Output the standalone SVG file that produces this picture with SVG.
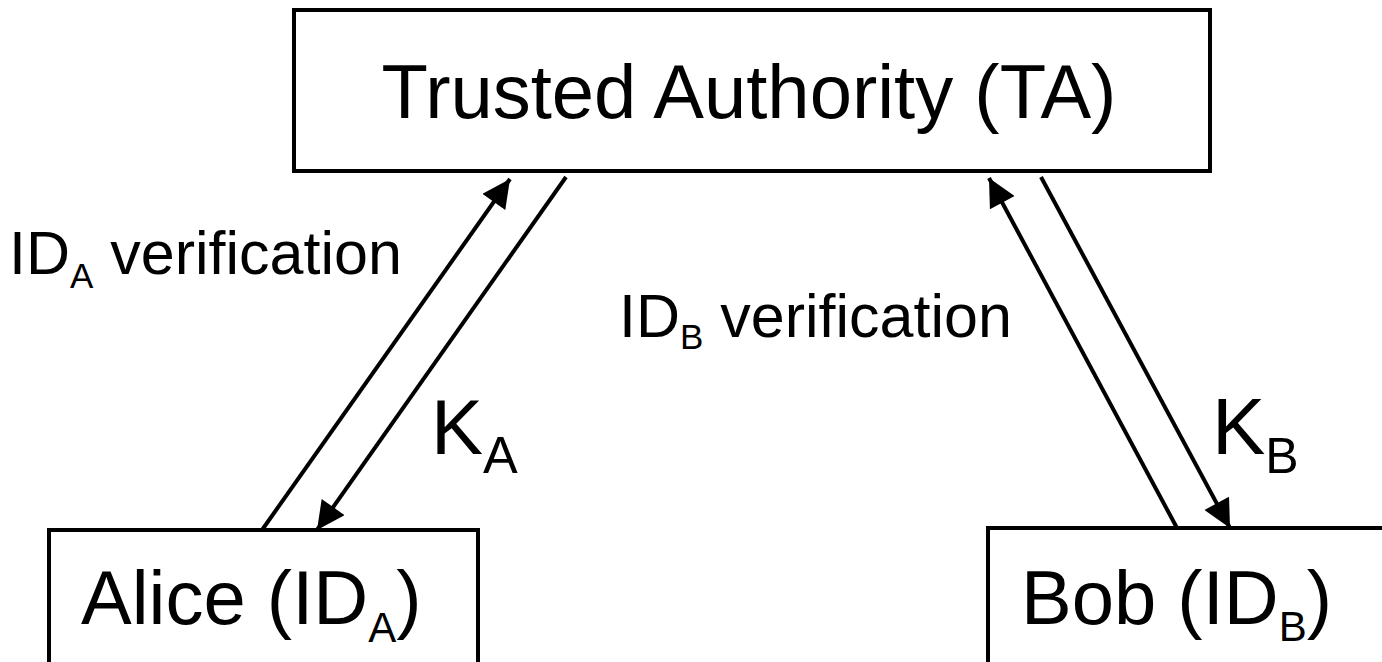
<svg xmlns="http://www.w3.org/2000/svg" width="1382" height="662" viewBox="0 0 1382 662">
  <style>
    .box { fill: #ffffff; stroke: #000000; stroke-width: 4; }
    .lbl { font-family: "Liberation Sans", Arial, sans-serif; fill: #000000; }
    .edge { fill: none; stroke: #000000; stroke-width: 4; }
  </style>
  <defs>
    <marker id="arrow" viewBox="0 0 10 10" refX="10" refY="5" markerWidth="7.2" markerHeight="7" markerUnits="strokeWidth" orient="auto">
      <path d="M0,0 L10,5 L0,10 Z" fill="#000000"/>
    </marker>
  </defs>
  <rect width="1382" height="662" fill="#ffffff"/>

  <g id="ta">
    <rect class="box" x="294" y="10" width="916" height="161"/>
    <text class="lbl" x="749" y="118" font-size="76" text-anchor="middle">Trusted Authority (TA)</text>
  </g>

  <g id="alice">
    <rect class="box" x="49" y="530" width="429" height="160"/>
    <text class="lbl" x="81" y="624" font-size="76">Alice (ID<tspan font-size="42" dy="18">A</tspan><tspan dy="-18">)</tspan></text>
  </g>

  <g id="bob">
    <rect class="box" x="988" y="528" width="420" height="160"/>
    <text class="lbl" x="1021" y="624" font-size="76">Bob (ID<tspan font-size="42" dy="17">B</tspan><tspan dy="-17">)</tspan></text>
  </g>

  <g id="connectors">
    <line class="edge" x1="262" y1="530" x2="510" y2="179" marker-end="url(#arrow)"/>
    <line class="edge" x1="566" y1="177" x2="317" y2="530" marker-end="url(#arrow)"/>
    <line class="edge" x1="1177" y1="528" x2="989" y2="178" marker-end="url(#arrow)"/>
    <line class="edge" x1="1041" y1="177" x2="1230" y2="528" marker-end="url(#arrow)"/>
  </g>

  <g id="edge-labels">
    <text class="lbl" x="9" y="274" font-size="61">ID<tspan font-size="35" dy="14">A</tspan><tspan dy="-14"> verification</tspan></text>
    <text class="lbl" x="619" y="337" font-size="61">ID<tspan font-size="35" dy="12">B</tspan><tspan dy="-12"> verification</tspan></text>
    <text class="lbl" x="431" y="454" font-size="78">K<tspan font-size="52" dy="19">A</tspan></text>
    <text class="lbl" x="1212" y="454" font-size="80">K<tspan font-size="50" dy="19">B</tspan></text>
  </g>
</svg>
